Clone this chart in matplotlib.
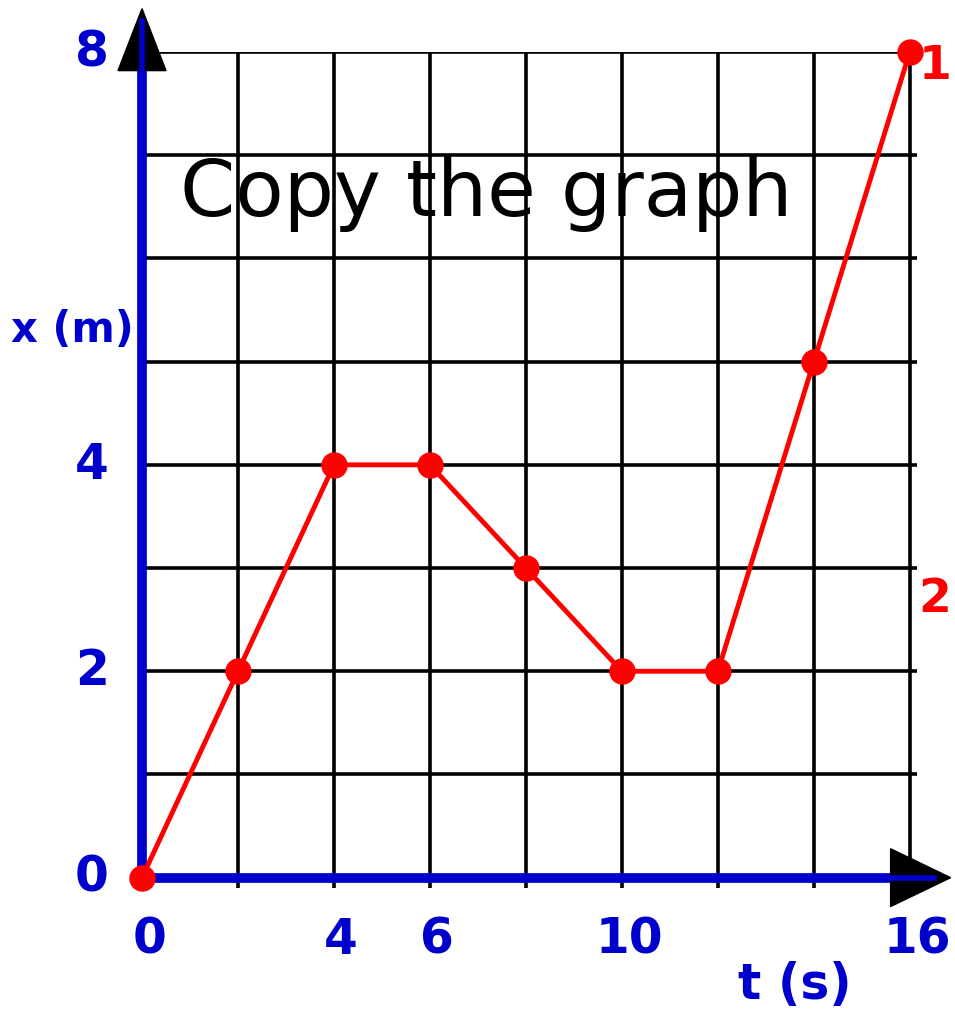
import matplotlib
matplotlib.use('Agg')
import matplotlib.pyplot as plt

# position-time data
t_s = [0, 2, 4, 6, 8, 10, 12, 14, 16]
x_m = [0, 2, 4, 4, 3, 2, 2, 5, 8]

x_ticks = [0, 4, 6, 10, 16]
y_ticks = [0, 2, 4, 8]

blue = '#0000CC'

fig = plt.figure(figsize=(9.55, 10.16), dpi=100)
ax = fig.add_axes([0.1487, 0.126, 0.8115, 0.8228])
ax.set_xlim(0, 16.15)
ax.set_ylim(-0.1, 8)

# grid of squares
ax.set_xticks(range(0, 17, 2))
ax.set_yticks(range(0, 9))
ax.grid(True, color='black', lw=2.6)
ax.tick_params(length=0, labelbottom=False, labelleft=False)
for s in ax.spines.values():
    s.set_visible(False)

# blue axes with black arrow heads
ax.plot([0, 0], [-0.08, 8.3], color=blue, lw=7, solid_capstyle='butt', clip_on=False, zorder=3)
ax.plot([0, 16.6], [0, 0], color=blue, lw=7, solid_capstyle='butt', clip_on=False, zorder=3)
ax.fill([-0.5, 0.5, 0], [7.82, 7.82, 8.42], color='black', clip_on=False, zorder=4)
ax.fill([15.6, 15.6, 16.85], [0.28, -0.28, 0], color='black', clip_on=False, zorder=4)
ax.plot([0, 0], [7.82, 8.3], color=blue, lw=4, clip_on=False, zorder=4)
ax.plot([15.6, 16.5], [0, 0], color=blue, lw=4, clip_on=False, zorder=4)

# motion curve
ax.plot(t_s, x_m, color='red', lw=3.5, marker='o', ms=18, clip_on=False, zorder=5)

lab = dict(color=blue, fontsize=35, fontweight='bold', ha='center', va='center')
for v in y_ticks:
    ax.text(-1.05, v, str(v), clip_on=False, **lab)
for v in x_ticks:
    ax.text(v + 0.15, -0.6, str(v), clip_on=False, **lab)
ax.text(-1.46, 5.31, 'x (m)', color=blue, fontsize=30, fontweight='bold',
        ha='center', va='center', clip_on=False)
ax.text(13.6, -1.04, 't (s)', **lab)

ax.text(0.8, 6.62, 'Copy the graph', fontsize=57, color='black',
        ha='left', va='center', zorder=6)

# part labels at the right edge
fig.text(0.996, 0.935, '1', color='red', fontsize=34, fontweight='bold', ha='right', va='center')
fig.text(0.996, 0.41, '2', color='red', fontsize=34, fontweight='bold', ha='right', va='center')

fig.savefig('out.png', dpi=100)
